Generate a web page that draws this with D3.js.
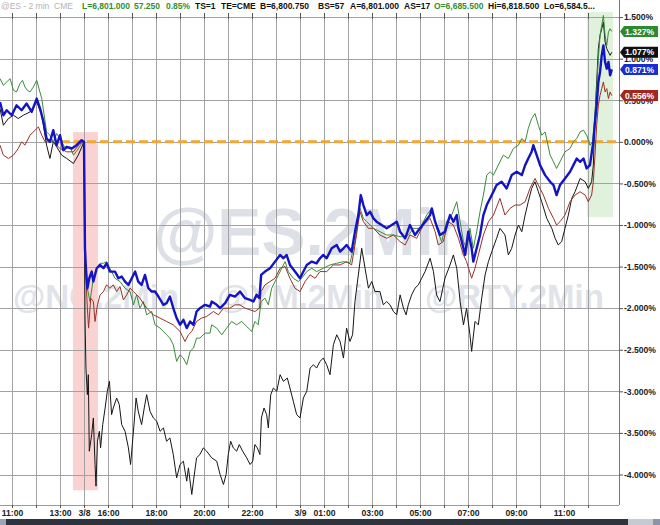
<!DOCTYPE html>
<html><head><meta charset="utf-8">
<script src="https://cdn.jsdelivr.net/npm/d3@7/dist/d3.min.js"></script>
<style>html,body{margin:0;padding:0;background:#fff;overflow:hidden}svg{display:block;font-family:Arial,"Liberation Sans",sans-serif}</style>
</head><body>
<svg id="c" width="660" height="525"></svg>
<script>
// ---- DATA (hours from 11:00 on the session axis, % change) ----
const nqGreen = [[-0.5,0.76],[-0.36,0.68],[-0.22,0.72],[-0.08,0.76],[0.06,0.62],[0.19,0.6],[0.33,0.7],[0.44,0.74],[0.54,0.66],[0.64,0.62],[0.75,0.6],[0.89,0.66],[1.03,0.74],[1.24,0.52],[1.44,0.12],[1.58,0.08],[1.72,0],[1.86,0.1],[2,0.04],[2.14,-0.04],[2.28,-0.08],[2.42,-0.06],[2.56,-0.16],[2.72,-0.1],[2.9,-0.02],[3,0],
[3.04,-1.36],[3.14,-1.76],[3.25,-1.92],[3.39,-1.64],[3.53,-1.52],[3.67,-1.46],[3.81,-1.46],[3.94,-1.44],[4.08,-1.52],[4.29,-1.64],[4.5,-1.68],[4.71,-1.76],[4.92,-1.8],[5.06,-1.96],[5.19,-1.84],[5.33,-2],[5.47,-1.92],[5.61,-2.08],[5.82,-2.04],[5.96,-2.2],[6.17,-2.24],[6.31,-2.28],[6.44,-2.32],[6.58,-2.36],[6.72,-2.44],[6.86,-2.64],[7,-2.56],[7.14,-2.6],[7.28,-2.68],[7.42,-2.52],[7.56,-2.48],[7.69,-2.36],[7.83,-2.36],[8.04,-2.3],[8.25,-2.3],
[8.32,-2.2],[8.53,-2.24],[8.74,-2.32],[8.94,-2.24],[9.15,-2.16],[9.36,-2.2],[9.57,-2.16],[9.78,-2.22],[9.99,-2.28],[10.12,-2.16],[10.26,-2.2],[10.38,-1.92],[10.54,-1.88],[10.68,-1.96],[10.82,-1.76],[11.03,-1.64],[11.24,-1.52],[11.38,-1.44],[11.51,-1.56],[11.72,-1.64],[11.93,-1.68],[12.07,-1.64],[12.28,-1.56],[12.49,-1.52],[12.69,-1.56],[12.97,-1.52],[13.25,-1.48],[13.53,-1.46],[13.81,-1.44],[14.08,-1.46],[14.29,-1.2],[14.5,-0.8],[14.64,-0.92],[14.78,-0.96],[15.06,-1.04],[15.33,-1.08],[15.61,-1.12],[15.89,-1.12],[16.17,-1.14],[16.44,-1.14],[16.58,-1.1],
[16.72,-1.04],[17,-1.04],[17.28,-0.88],[17.49,-0.8],[17.69,-1.04],[17.9,-1.2],[18.11,-0.96],[18.32,-0.88],[18.53,-0.72],[18.67,-0.96],[18.81,-1.2],[18.94,-1.28],[19.08,-1.04],[19.22,-1.28],[19.36,-1.08],[19.5,-0.84],[19.64,-0.64],[19.78,-0.4],[19.92,-0.36],[20.06,-0.4],[20.26,-0.28],[20.47,-0.16],[20.68,-0.2],[20.89,-0.08],[21.1,-0.04],[21.24,0.04],[21.38,0],[21.51,0.16],[21.65,0.28],[21.79,0.34],[21.93,0.2],[22.07,0.08],[22.21,0.12],[22.42,-0.16],[22.56,-0.24],[22.69,-0.32],[22.83,-0.24],[23.04,-0.12],[23.25,-0.08],[23.39,0],[23.53,0.04],[23.67,0.12],[23.81,0.14],[23.94,0.08],[24.08,-0.04],[24.19,0],[24.29,0.32],[24.36,0.64],[24.43,1],[24.5,1.28],[24.57,1.4],[24.64,1.52],[24.71,1.28],[24.78,1.16],[24.85,1.32],[24.92,1.36],[24.99,1.327]];

const esBlue = [[-0.5,0.48],[-0.36,0.32],[-0.22,0.38],[-0.01,0.32],[0.19,0.44],[0.4,0.38],[0.61,0.46],[0.82,0.36],[1.03,0.52],[1.17,0.4],[1.31,0.24],[1.44,0.04],[1.58,0],[1.72,0.14],[1.86,-0.04],[2,0.08],[2.14,-0.1],[2.28,-0.06],[2.49,-0.08],[2.69,-0.04],[2.9,0.02],[3,0],
[3.04,-1.28],[3.08,-1.52],[3.14,-1.76],[3.22,-1.64],[3.32,-1.56],[3.39,-1.68],[3.53,-1.52],[3.67,-1.48],[3.81,-1.52],[3.94,-1.46],[4.08,-1.56],[4.29,-1.56],[4.43,-1.64],[4.57,-1.62],[4.71,-1.68],[4.85,-1.72],[4.99,-1.64],[5.13,-1.56],[5.26,-1.68],[5.4,-1.72],[5.54,-1.6],[5.68,-1.76],[5.82,-1.8],[5.96,-1.8],[6.1,-1.86],[6.31,-1.96],[6.44,-1.94],[6.58,-1.86],[6.72,-2],[6.86,-2.12],[7,-2.2],[7.14,-2.14],[7.28,-2.24],[7.42,-2.16],[7.56,-2.2],[7.69,-2.04],[7.83,-2],[8.04,-1.96],[8.25,-1.98],
[8.32,-1.92],[8.53,-1.96],[8.67,-2],[8.88,-1.94],[9.08,-1.84],[9.29,-1.86],[9.5,-1.8],[9.71,-1.88],[9.92,-1.9],[10.06,-1.92],[10.19,-1.84],[10.31,-1.88],[10.38,-1.6],[10.54,-1.56],[10.75,-1.52],[10.96,-1.44],[11.17,-1.36],[11.31,-1.4],[11.44,-1.36],[11.58,-1.48],[11.79,-1.56],[12,-1.64],[12.14,-1.56],[12.28,-1.48],[12.49,-1.44],[12.69,-1.46],[12.83,-1.4],[12.97,-1.36],[13.11,-1.4],[13.32,-1.28],[13.53,-1.24],[13.67,-1.32],[13.81,-1.28],[13.94,-1.24],[14.15,-1.32],[14.29,-1.08],[14.43,-0.88],[14.53,-0.64],[14.64,-0.76],[14.78,-0.88],[14.92,-0.84],[15.06,-0.92],[15.19,-0.96],[15.4,-1],[15.61,-1.04],[15.82,-1],[16.03,-0.96],[16.17,-1.08],
[16.38,-1.16],[16.58,-1],[16.79,-1.12],[17,-1.04],[17.21,-0.96],[17.42,-0.88],[17.49,-0.8],[17.63,-0.96],[17.83,-1.12],[18.04,-1.08],[18.25,-0.88],[18.39,-0.96],[18.53,-0.88],[18.6,-1.04],[18.74,-1.2],[18.88,-1.36],[19.01,-1.08],[19.15,-1.28],[19.22,-1.44],[19.36,-1.28],[19.5,-1.12],[19.64,-0.88],[19.78,-0.76],[19.99,-0.64],[20.19,-0.52],[20.4,-0.48],[20.61,-0.56],[20.82,-0.4],[21.03,-0.36],[21.24,-0.4],[21.38,-0.28],[21.51,-0.2],[21.65,-0.12],[21.72,-0.04],[21.86,-0.16],[22,-0.28],[22.21,-0.4],[22.42,-0.48],[22.56,-0.52],[22.69,-0.64],[22.83,-0.52],[23.04,-0.44],[23.25,-0.36],[23.39,-0.28],[23.53,-0.2],[23.67,-0.24],[23.81,-0.2],[23.94,-0.32],[24.08,-0.28],[24.22,0],[24.29,0.24],[24.36,0.44],[24.43,0.72],[24.5,0.84],[24.57,1.04],[24.64,1.16],[24.71,0.96],[24.78,0.88],[24.85,0.96],[24.92,0.8],[24.99,0.871]];

const ymRed = [[-0.5,-0.04],[-0.36,-0.16],[-0.15,-0.2],[0.06,-0.16],[0.26,-0.08],[0.4,0],[0.54,-0.04],[0.75,0.08],[0.96,0.14],[1.1,0.18],[1.24,0.08],[1.38,0],[1.58,0.02],[1.72,0],[2,-0.08],[2.28,-0.12],[2.56,-0.12],[2.83,-0.02],[3,0],
[3.06,-1.52],[3.14,-2],[3.19,-2.24],[3.28,-1.88],[3.39,-1.92],[3.46,-2.16],[3.56,-1.96],[3.67,-1.84],[3.81,-1.8],[3.94,-1.72],[4.08,-1.76],[4.22,-1.72],[4.36,-1.8],[4.5,-1.74],[4.64,-1.9],[4.78,-1.84],[4.92,-1.76],[5.06,-1.8],[5.33,-1.88],[5.61,-2],[5.89,-2.08],[6.17,-2.12],[6.44,-2.16],[6.72,-2.2],[7,-2.28],[7.21,-2.4],[7.35,-2.32],[7.49,-2.28],[7.69,-2.16],[7.9,-2.12],[8.11,-2.1],
[8.39,-2.04],[8.6,-2.08],[8.81,-2],[9.08,-2],[9.29,-1.96],[9.5,-1.96],[9.71,-2],[9.92,-2.02],[10.12,-2.04],[10.31,-2],[10.38,-1.8],[10.54,-1.72],[10.75,-1.68],[10.96,-1.64],[11.17,-1.52],[11.38,-1.5],[11.58,-1.64],[11.79,-1.76],[12,-1.8],[12.21,-1.68],[12.42,-1.6],[12.63,-1.64],[12.83,-1.56],[13.11,-1.56],[13.39,-1.48],[13.67,-1.48],[13.94,-1.44],[14.15,-1.48],[14.29,-1.24],[14.5,-0.84],[14.64,-0.96],[14.85,-1.04],[15.06,-1.04],[15.33,-1.12],[15.61,-1.16],[15.89,-1.12],[16.17,-1.2],
[16.38,-1.24],[16.58,-1.12],[16.86,-1.16],[17.14,-1],[17.42,-0.92],[17.63,-1.08],[17.76,-1.24],[17.97,-1.2],[18.18,-0.96],[18.39,-1],[18.6,-1.16],[18.81,-1.36],[18.94,-1.44],[19.15,-1.64],[19.29,-1.52],[19.43,-1.36],[19.64,-1.12],[19.85,-0.96],[20.06,-0.88],[20.33,-0.68],[20.54,-0.88],[20.75,-0.8],[20.96,-0.76],[21.17,-0.76],[21.38,-0.72],[21.58,-0.56],[21.79,-0.44],[21.93,-0.52],[22.14,-0.64],[22.35,-0.8],[22.56,-0.92],[22.69,-1],[22.83,-0.96],[23.04,-0.88],[23.25,-0.72],[23.46,-0.64],[23.67,-0.6],[23.88,-0.64],[24.01,-0.72],[24.15,-0.64],[24.22,-0.48],[24.29,-0.16],[24.36,0.2],[24.43,0.44],[24.5,0.56],[24.57,0.64],[24.64,0.72],[24.71,0.6],[24.78,0.64],[24.85,0.52],[24.92,0.6],[24.99,0.556]];

const rtyBlack = [[-0.5,0.4],[-0.36,0.2],[-0.15,0.28],[0.06,0.32],[0.26,0.28],[0.47,0.32],[0.75,0.36],[1.03,0.48],[1.24,0.32],[1.44,-0.04],[1.58,-0.2],[1.72,0],[1.86,-0.06],[2.07,-0.16],[2.28,-0.2],[2.56,-0.26],[2.76,-0.16],[3,0],
[3.04,-2.08],[3.08,-2.72],[3.14,-3.04],[3.18,-2.8],[3.22,-3.72],[3.32,-3.52],[3.39,-3.32],[3.46,-3.88],[3.5,-4.14],[3.56,-3.6],[3.64,-3.48],[3.69,-3.68],[3.78,-3.4],[3.88,-3.2],[3.97,-3],[4.06,-2.88],[4.15,-3.28],[4.22,-3.2],[4.36,-3.08],[4.47,-3.16],[4.57,-3.4],[4.71,-3.48],[4.85,-3.68],[4.94,-3.88],[5.06,-3.48],[5.17,-3.08],[5.26,-3.24],[5.4,-3.4],[5.51,-3.2],[5.61,-3.04],[5.75,-3.24],[5.89,-3.32],[6.03,-3.36],[6.17,-3.48],[6.31,-3.44],[6.44,-3.6],[6.58,-3.56],[6.72,-3.76],[6.86,-4.04],[7,-3.88],[7.14,-3.84],[7.28,-4.08],[7.35,-3.92],[7.49,-4.24],[7.56,-4.08],[7.69,-3.8],[7.83,-3.76],[7.97,-3.68],[8.11,-3.72],
[8.32,-3.8],[8.53,-3.84],[8.67,-4],[8.81,-4.12],[8.92,-4],[9.01,-3.76],[9.11,-3.6],[9.22,-3.68],[9.36,-3.72],[9.47,-3.64],[9.61,-3.72],[9.78,-3.8],[9.92,-3.88],[10.03,-3.84],[10.12,-3.64],[10.22,-3.68],[10.33,-3.76],[10.39,-3.32],[10.5,-3.2],[10.61,-3.28],[10.68,-3.44],[10.78,-3.04],[10.89,-2.96],[11.03,-3],[11.17,-2.8],[11.31,-2.88],[11.47,-2.84],[11.58,-2.96],[11.72,-3.12],[11.86,-3.28],[12,-3.32],[12.14,-3.08],[12.28,-3],[12.42,-2.72],[12.56,-2.68],[12.69,-2.72],[12.83,-2.64],[12.97,-2.6],[13.11,-2.68],[13.25,-2.8],[13.39,-2.44],[13.53,-2.32],[13.67,-2.4],[13.81,-2.6],[13.94,-2.24],[14.08,-2.4],[14.19,-2.32],[14.29,-1.92],[14.43,-1.6],[14.57,-1.28],[14.71,-1.52],[14.85,-1.76],[14.99,-1.68],[15.12,-1.8],[15.33,-1.8],[15.47,-1.96],[15.61,-1.92],[15.75,-1.96],[15.89,-2.04],[16.03,-2.08],[16.17,-1.84],
[16.31,-2],[16.42,-2.08],[16.51,-1.96],[16.65,-1.84],[16.79,-1.76],[16.93,-1.72],[17.07,-1.64],[17.21,-1.56],[17.42,-1.4],[17.56,-1.56],[17.69,-1.84],[17.83,-1.92],[18.04,-1.64],[18.25,-1.48],[18.39,-1.36],[18.53,-1.52],[18.67,-1.92],[18.81,-2.2],[18.94,-2],[19.08,-2.32],[19.15,-2.52],[19.29,-2.16],[19.43,-2.2],[19.57,-1.88],[19.71,-1.6],[19.85,-1.44],[19.99,-1.32],[20.19,-1.16],[20.33,-1.04],[20.54,-1.12],[20.68,-1.36],[20.82,-1.28],[20.96,-1.12],[21.1,-1],[21.24,-1.08],[21.38,-0.88],[21.51,-0.72],[21.65,-0.56],[21.79,-0.48],[21.93,-0.6],[22.07,-0.72],[22.28,-0.92],[22.49,-1.04],[22.63,-1.16],[22.76,-1.24],[22.9,-1.2],[23.04,-1.04],[23.18,-0.88],[23.32,-0.68],[23.46,-0.6],[23.67,-0.44],[23.88,-0.48],[24.01,-0.56],[24.15,-0.48],[24.22,-0.28],[24.29,0.32],[24.36,0.72],[24.43,1.12],[24.5,1.28],[24.57,1.36],[24.64,1.44],[24.71,1.2],[24.78,1.12],[24.85,1.08],[24.92,1.04],[24.99,1.077]];

const xTickHours = [0,2,3,4,6,8,10,12,13,15,17,19,21,23];
const xTickLabels = ["11:00","13:00","3/8","16:00","18:00","20:00","22:00","3/9","01:00","03:00","05:00","07:00","09:00","11:00"];
const hourGrid = d3.range(0,25);
const yTicks = [1.5,1,0.5,0,-0.5,-1,-1.5,-2,-2.5,-3,-3.5,-4];
const pinkBand = [2.54,3.58,0.117,-4.19];
const greenBand = [23.96,25.04,1.56,-0.905];
const refLineStart = 2.04;
const headerTexts = ["@ES - 2 min  CME","L=6,801.000","57.250","0.85%","TS=1","TE=CME","B=6,800.750","BS=57","A=6,801.000","AS=17","O=6,685.500","Hi=6,818.500","Lo=6,584.5..."];
const watermarkMain = "@ES.2Min";
const watermarkSmall = ["@NQ.2Min","@YM.2Min","@RTY.2Min"];

// ---- LAYOUT ----
const headerX = [1,82,134,166,195,221,260,318,350,404,434,488,544];
const headerColor = ["#b4b4b4","#2f8f2f","#2f8f2f","#2f8f2f","#111","#111","#111","#111","#111","#111","#2f8f2f","#111","#111"];
const wmSmallX = [13,217,425];

const svg = d3.select("#c");
const x = d3.scaleLinear().domain([-0.5,25.29]).range([0,619]);
const y = d3.scaleLinear().domain([-4,1.5]).range([474.5,17.1]);
const axisX = 619, plotTop = 13, plotBottom = 505;

// watermarks
svg.append("text").attr("x",153).attr("y",255).attr("font-size",66).attr("font-weight","bold")
  .attr("fill","#dde0e7").text(watermarkMain);
svg.selectAll("text.wm").data(watermarkSmall).join("text").attr("class","wm")
  .attr("x",(d,i)=>wmSmallX[i]).attr("y",308).attr("font-size",33).attr("font-weight","bold")
  .attr("fill","#e0e3e9").text(d=>d);

// bands
svg.append("rect").attr("x",x(pinkBand[0])).attr("width",x(pinkBand[1])-x(pinkBand[0]))
  .attr("y",y(pinkBand[2])).attr("height",y(pinkBand[3])-y(pinkBand[2])).attr("fill","#fad2d2");
svg.append("rect").attr("x",x(greenBand[0])).attr("width",x(greenBand[1])-x(greenBand[0]))
  .attr("y",y(greenBand[2])).attr("height",y(greenBand[3])-y(greenBand[2])).attr("fill","#e0f1dc");

// grid
const grid = svg.append("g").attr("stroke","#a2a2a2").attr("stroke-width",1).attr("shape-rendering","crispEdges");
grid.selectAll("line.v").data(hourGrid).join("line").attr("class","v")
  .attr("x1",d=>Math.round(x(d))+0.5).attr("x2",d=>Math.round(x(d))+0.5).attr("y1",plotTop).attr("y2",plotBottom);
grid.selectAll("line.h").data(yTicks).join("line").attr("class","h")
  .attr("x1",0).attr("x2",axisX).attr("y1",d=>Math.round(y(d))+0.5).attr("y2",d=>Math.round(y(d))+0.5);

// reference line at 0%
svg.append("line").attr("x1",x(refLineStart)).attr("x2",axisX).attr("y1",y(0)).attr("y2",y(0))
  .attr("stroke","#f2a633").attr("stroke-width",3).attr("stroke-dasharray","9,4");

// series
const line = d3.line().x(d=>x(d[0])).y(d=>y(d[1]));
const series = [
  {data:rtyBlack,color:"#161616",box:"#111111",w:1},
  {data:nqGreen,color:"#3b8a3b",box:"#2e8a2e",w:1},
  {data:ymRed,color:"#963226",box:"#a1281e",w:1},
  {data:esBlue,color:"#1414c4",box:"#1a2ed0",w:2.4}
];
svg.selectAll("path.s").data(series).join("path").attr("class","s")
  .attr("d",d=>line(d.data)).attr("fill","none").attr("stroke",d=>d.color)
  .attr("stroke-width",d=>d.w).attr("stroke-linejoin","round");

// axes
svg.append("line").attr("x1",axisX+0.5).attr("x2",axisX+0.5).attr("y1",0).attr("y2",plotBottom).attr("stroke","#777");
svg.append("line").attr("x1",0).attr("x2",axisX).attr("y1",plotBottom+0.5).attr("y2",plotBottom+0.5).attr("stroke","#999");

const yAxis = svg.append("g").attr("transform",`translate(${axisX},0)`)
  .call(d3.axisRight(y).tickValues(yTicks).tickSize(4).tickPadding(1).tickFormat(d=>d.toFixed(3)+"%"));
yAxis.select(".domain").remove();
yAxis.selectAll("line").attr("stroke","#555");
yAxis.selectAll("text").attr("font-size",8.6).attr("font-weight","bold").attr("fill","#222")
  .attr("font-family","Arial,'Liberation Sans',sans-serif");

const xMinor = svg.append("g").attr("transform",`translate(0,${plotBottom})`)
  .call(d3.axisBottom(x).tickValues(hourGrid).tickSize(3).tickFormat(""));
xMinor.select(".domain").remove();
xMinor.selectAll("line").attr("stroke","#555");
const xAxis = svg.append("g").attr("transform",`translate(0,${plotBottom})`)
  .call(d3.axisBottom(x).tickValues(xTickHours).tickSize(0).tickPadding(5).tickFormat((d,i)=>xTickLabels[i]));
xAxis.select(".domain").remove();
xAxis.selectAll("text").attr("font-size",8.6).attr("font-weight","bold").attr("fill","#222")
  .attr("font-family","Arial,'Liberation Sans',sans-serif");

// top ticks
svg.append("g").selectAll("line").data(hourGrid).join("line")
  .attr("x1",d=>Math.round(x(d))+0.5).attr("x2",d=>Math.round(x(d))+0.5).attr("y1",13).attr("y2",19)
  .attr("stroke","#555");

// value boxes
const bx = axisX+1, bw = 38, bh = 11;
const bg = svg.append("g");
series.forEach(s=>{
  const v = s.data[s.data.length-1][1];
  const cy = y(v);
  bg.append("path").attr("d",`M${bx},${cy} L${bx+4},${cy-bh/2} L${bx+bw},${cy-bh/2} L${bx+bw},${cy+bh/2} L${bx+4},${cy+bh/2} Z`)
    .attr("fill",s.box);
  bg.append("text").attr("x",bx+5).attr("y",cy+3.2).attr("font-size",8.6).attr("font-weight","bold")
    .attr("fill","#fff").text(v.toFixed(3)+"%");
});

// header
svg.selectAll("text.hd").data(headerTexts).join("text").attr("class","hd")
  .attr("x",(d,i)=>headerX[i]).attr("y",9).attr("font-size",8.5).attr("font-weight",(d,i)=>i===0?"normal":"bold")
  .attr("fill",(d,i)=>headerColor[i]).style("white-space","pre").text(d=>d);

// bottom bar
svg.append("rect").attr("x",0).attr("y",519).attr("width",660).attr("height",6).attr("fill","#2e343e");
svg.append("rect").attr("x",0).attr("y",519).attr("width",6).attr("height",6).attr("fill","#9aa6b8");
svg.append("rect").attr("x",628).attr("y",519).attr("width",25).attr("height",6).attr("fill","#c6cbd3");
svg.append("rect").attr("x",653).attr("y",519).attr("width",7).attr("height",6).attr("fill","#8a96a8");
</script>
</body></html>
